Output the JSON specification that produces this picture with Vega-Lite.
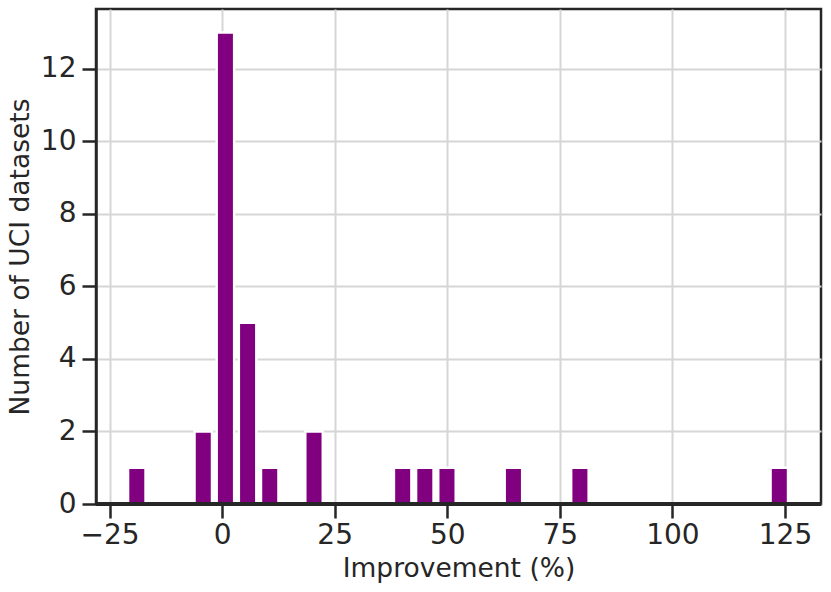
{
  "$schema": "https://vega.github.io/schema/vega-lite/v6.json",
  "width": 725,
  "height": 495,
  "autosize": {"type": "none"},
  "padding": {"left": 96, "top": 9, "right": 10, "bottom": 88},
  "background": "white",
  "config": {
    "view": {"stroke": "#262626", "strokeWidth": 2.5},
    "font": "DejaVu Sans",
    "axis": {
      "titleFont": "DejaVu Sans",
      "titleFontSize": 26.5,
      "titleFontWeight": "normal",
      "titleColor": "#262626",
      "labelFont": "DejaVu Sans",
      "labelFontSize": 28,
      "labelColor": "#262626",
      "tickSize": 14,
      "tickWidth": 2.5,
      "tickColor": "#262626",
      "domainColor": "#262626",
      "domainWidth": 2.5,
      "grid": true,
      "gridColor": "#d6d6d6",
      "gridWidth": 2,
      "zindex": 0
    },
    "axisX": {"labelPadding": 3, "titlePadding": 6},
    "axisY": {"labelPadding": 6, "titlePadding": 6}
  },
  "data": {
    "values": [
      {"improvement": -18.94, "count": 1},
      {"improvement": -4.18, "count": 2},
      {"improvement": 0.74, "count": 13},
      {"improvement": 5.66, "count": 5},
      {"improvement": 10.58, "count": 1},
      {"improvement": 20.42, "count": 2},
      {"improvement": 40.1, "count": 1},
      {"improvement": 45.02, "count": 1},
      {"improvement": 49.94, "count": 1},
      {"improvement": 64.7, "count": 1},
      {"improvement": 79.46, "count": 1},
      {"improvement": 123.74, "count": 1}
    ]
  },
  "layer": [
    {
      "mark": {"type": "bar", "color": "#800080", "stroke": "white", "strokeWidth": 2.5, "size": 17.5, "orient": "vertical"},
      "encoding": {
        "x": {
          "field": "improvement",
          "type": "quantitative",
          "scale": {"domain": [-28, 133], "nice": false, "zero": false, "padding": 0},
          "axis": {"title": "Improvement (%)", "values": [-25, 0, 25, 50, 75, 100, 125]}
        },
        "y": {
          "field": "count",
          "type": "quantitative",
          "scale": {"domain": [0, 13.65], "nice": false, "padding": 0},
          "axis": {"title": "Number of UCI datasets", "values": [0, 2, 4, 6, 8, 10, 12]}
        }
      }
    },
    {
      "mark": {"type": "rule", "color": "#262626", "strokeWidth": 2.5},
      "encoding": {"y": {"datum": 0, "type": "quantitative"}}
    }
  ]
}
